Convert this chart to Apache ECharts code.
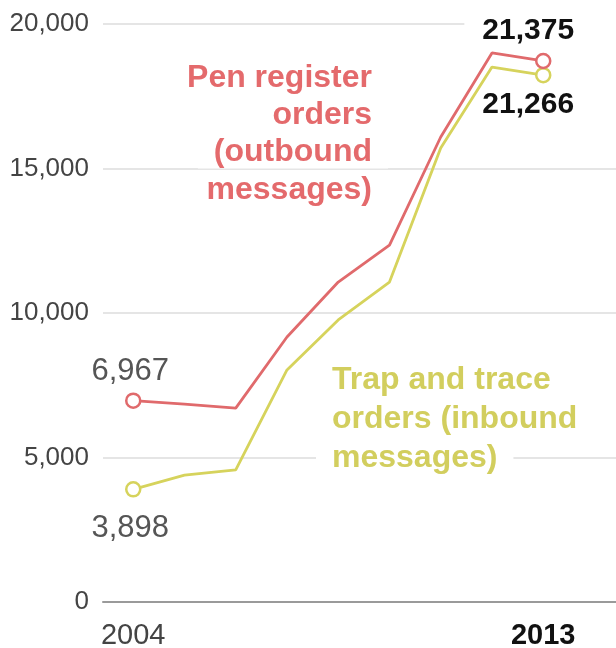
<!DOCTYPE html>
<html>
<head>
<meta charset="utf-8">
<script src="https://cdn.jsdelivr.net/npm/echarts@6/dist/echarts.min.js"></script>
<style>
html,body{margin:0;padding:0;background:#fff;}
#chart{width:616px;height:648px;}
</style>
</head>
<body>
<div id="chart"></div>
<script>
// Years shown as points (9 points, first and last labelled)
const years = ['2004','2005','2006','2007','2008','2009','2010','2011','2013'];
const penRegister = [6967, 6850, 6710, 9170, 11070, 12350, 16090, 19000, 18720];
const trapTrace = [3898, 4390, 4570, 8030, 9760, 11070, 15710, 18510, 18230];
const penLabels = ['6,967', '21,375'];
const trapLabels = ['3,898', '21,266'];
const penTitleLines = ['Pen register', 'orders', '(outbound', 'messages)'];
const trapTitleLines = ['Trap and trace', 'orders (inbound', 'messages)'];

const RED = '#e06a6c';
const RED_TXT = '#e46a6c';
const YEL = '#d6d35c';
const YEL_TXT = '#d2ce5e';
const FONT = "'Liberation Sans', Arial, sans-serif";

function buildData(values, labels, firstPos, firstDist, lastPos, lastDist, lastBg) {
  const n = values.length;
  return values.map((v, i) => {
    const item = { value: [i, v] };
    if (i === 0 || i === n - 1) {
      const last = i === n - 1;
      item.symbol = 'circle';
      item.label = {
        show: true,
        position: last ? lastPos : firstPos,
        distance: last ? lastDist : firstDist,
        offset: last ? (lastBg ? [1, 0] : [-15, 0]) : [-3, 0],
        formatter: last ? labels[1] : labels[0],
        fontFamily: FONT,
        fontSize: last ? 30 : 31,
        fontWeight: last ? 'bold' : 'normal',
        color: last ? '#111' : '#555'
      };
      if (last && lastBg) {
        item.label.backgroundColor = '#fff';
        item.label.padding = [0, 50, 0, 18];
      }
    } else {
      item.symbol = 'none';
    }
    return item;
  });
}

function titleTexts(lines, x, yStart, step, align, color) {
  return lines.map((t, k) => ({
    type: 'text', z: 1,
    style: {
      text: t, x: x, y: yStart + k * step, align: align, verticalAlign: 'middle',
      font: 'bold 32px ' + FONT, fill: color,
      backgroundColor: '#fff', padding: [0, 16, 0, 16]
    }
  }));
}

const chart = echarts.init(document.getElementById('chart'), null, { renderer: 'canvas' });
chart.setOption({
  backgroundColor: '#fff',
  animation: false,
  grid: { left: 103, right: 0, top: 24, bottom: 46, containLabel: false, outerBoundsMode: 'none' },
  xAxis: {
    type: 'value',
    min: -0.59,
    max: 9.42,
    splitLine: { show: false },
    axisTick: { show: false },
    axisLine: { show: true, lineStyle: { color: '#9a9a9a', width: 2 } },
    axisLabel: {
      customValues: [0, years.length - 1],
      margin: 19,
      fontFamily: FONT,
      fontSize: 29,
      color: '#444',
      formatter: function (v) {
        const i = Math.round(v);
        return i === years.length - 1 ? '{b|' + years[i] + '}' : years[i];
      },
      rich: { b: { fontFamily: FONT, fontSize: 29, fontWeight: 'bold', color: '#111' } }
    }
  },
  yAxis: {
    type: 'value',
    min: 0,
    max: 20000,
    interval: 5000,
    axisLine: { show: false },
    axisTick: { show: false },
    splitLine: { show: true, lineStyle: { color: '#dcdcdc', width: 1.5 } },
    axisLabel: {
      margin: 14,
      fontFamily: FONT,
      fontSize: 26,
      color: '#444',
      formatter: function (v) { return v.toLocaleString('en-US'); }
    }
  },
  graphic: titleTexts(penTitleLines, 388, 78, 37.3, 'right', RED_TXT)
    .concat(titleTexts(trapTitleLines, 316, 380, 39, 'left', YEL_TXT)),
  series: [
    {
      name: 'Pen register orders',
      type: 'line',
      z: 3,
      data: buildData(penRegister, penLabels, 'top', 5, 'top', 7, true),
      symbolSize: 14,
      itemStyle: { color: '#fff', borderColor: RED, borderWidth: 2.5 },
      lineStyle: { color: RED, width: 2.8 }
    },
    {
      name: 'Trap and trace orders',
      type: 'line',
      z: 2,
      data: buildData(trapTrace, trapLabels, 'bottom', 15, 'bottom', 6, false),
      symbolSize: 14,
      itemStyle: { color: '#fff', borderColor: YEL, borderWidth: 2.5 },
      lineStyle: { color: YEL, width: 2.8 }
    }
  ]
});
</script>
</body>
</html>
